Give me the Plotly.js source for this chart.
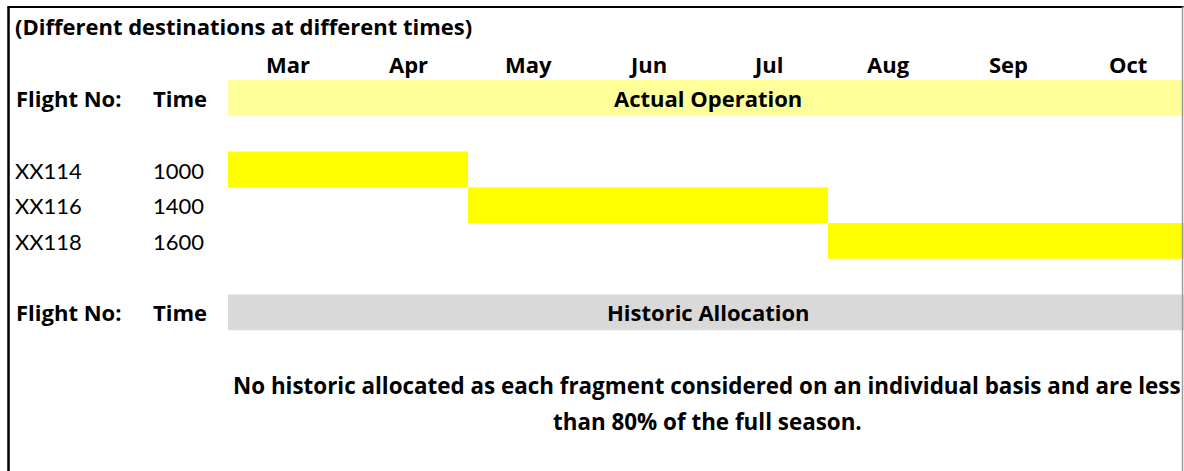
<!DOCTYPE html>
<html>
<head>
<meta charset="utf-8">
<script src="https://cdn.plot.ly/plotly-3.0.1.min.js"></script>
<style>
  html, body { margin: 0; padding: 0; background: #ffffff; }
  #chart { width: 1184px; height: 471px; }
</style>
</head>
<body>
<div id="chart"></div>
<script>
// ---- data ----
const chartTitle = '(Different destinations at different times)';
const months = ['Mar', 'Apr', 'May', 'Jun', 'Jul', 'Aug', 'Sep', 'Oct'];
const flights = ['XX114', 'XX116', 'XX118'];
const times = ['1000', '1400', '1600'];
const startMonthIdx = [0, 2, 5];
const durationMonths = [2, 3, 3];
const headerLabels = ['Flight No:', 'Time'];
const sectionTitles = ['Actual Operation', 'Historic Allocation'];
const noteLines = [
  'No historic allocated as each fragment considered on an individual basis and are less',
  'than 80% of the full season.'
];

// ---- layout helpers (rows are spreadsheet-like rows, months are columns) ----
const W = 1184, H = 471;
const colPx = 120, col0Px = 228;      // month column width & start
const rowPx = 35.75, row0Px = 8.5;    // row height & top
const rowMonths = 1, rowHeader1 = 2, rowFlight0 = 4, rowHeader2 = 8, rowNote0 = 10;
const xOf = px => (px - col0Px) / colPx;
const BOLD_FONT = '"Open Sans", Lato, sans-serif';
const REG_FONT = 'Lato, "Open Sans", sans-serif';
const nM = months.length;

const traces = [];
// section bands
traces.push({
  type: 'bar', orientation: 'h',
  y: [rowHeader1 + 0.5, rowHeader2 + 0.5],
  base: [0, 0],
  x: [nM, nM],
  width: [1, 1],
  marker: { color: ['#FFFF99', '#D9D9D9'], line: { width: 0 } },
  hoverinfo: 'skip', showlegend: false
});
// flight operation bars
traces.push({
  type: 'bar', orientation: 'h',
  y: flights.map((f, i) => rowFlight0 + i + 0.5),
  base: startMonthIdx,
  x: durationMonths,
  width: flights.map(() => 1),
  marker: { color: '#FFFF00', line: { width: 0 } },
  text: flights, hoverinfo: 'text', textposition: 'none',
  showlegend: false
});

const ann = [];
const bold = (s) => '<b>' + s + '</b>';
const B = { family: BOLD_FONT, size: 22 };
const BN = { family: BOLD_FONT, size: 22.4 };
const R = { family: REG_FONT, size: 22 };
ann.push({ x: xOf(13), y: 0.5, text: bold(chartTitle), xanchor: 'left', font: B });
months.forEach((m, i) => ann.push({ x: i + 0.5, y: rowMonths + 0.55, text: bold(m), xanchor: 'center', font: B }));
[rowHeader1, rowHeader2].forEach((r, k) => {
  ann.push({ x: xOf(14), y: r + 0.5, text: bold(headerLabels[0]), xanchor: 'left', font: B });
  ann.push({ x: xOf(151), y: r + 0.5, text: bold(headerLabels[1]), xanchor: 'left', font: B });
  ann.push({ x: nM / 2, y: r + 0.5, text: bold(sectionTitles[k]), xanchor: 'center', font: B });
});
flights.forEach((f, i) => {
  ann.push({ x: xOf(13), y: rowFlight0 + i + 0.52, text: f, xanchor: 'left', font: R });
  ann.push({ x: xOf(151), y: rowFlight0 + i + 0.52, text: times[i], xanchor: 'left', font: R });
});
noteLines.forEach((t, i) => ann.push({ x: xOf(707), y: rowNote0 + i + 0.55, text: bold(t), xanchor: 'center', font: BN }));
ann.forEach(a => {
  a.xref = 'x'; a.yref = 'y'; a.showarrow = false; a.yanchor = 'middle';
  a.font = Object.assign({ color: '#000000' }, a.font);
});

const layout = {
  width: W, height: H,
  margin: { l: 0, r: 0, t: 0, b: 0, pad: 0 },
  paper_bgcolor: '#ffffff', plot_bgcolor: '#ffffff',
  barmode: 'overlay',
  xaxis: { range: [xOf(0), xOf(W)], visible: false, fixedrange: true },
  yaxis: { range: [(H - row0Px) / rowPx, -row0Px / rowPx], visible: false, fixedrange: true },
  annotations: ann,
  shapes: [
    { type: 'line', xref: 'paper', yref: 'paper', x0: 8.5 / W, x1: 8.5 / W, y0: 0, y1: 1 - 6.5 / H, line: { color: '#000000', width: 2.5 } },
    { type: 'line', xref: 'paper', yref: 'paper', x0: 7.5 / W, x1: 1183.5 / W, y0: 1 - 7 / H, y1: 1 - 7 / H, line: { color: '#000000', width: 2 } },
    { type: 'line', xref: 'paper', yref: 'paper', x0: 1182.5 / W, x1: 1182.5 / W, y0: 0, y1: 1 - 7 / H, line: { color: '#9a9a9a', width: 1.5 } }
  ],
  showlegend: false,
  hovermode: 'closest'
};

Plotly.newPlot('chart', traces, layout, { displayModeBar: false, staticPlot: true });
</script>
</body>
</html>
